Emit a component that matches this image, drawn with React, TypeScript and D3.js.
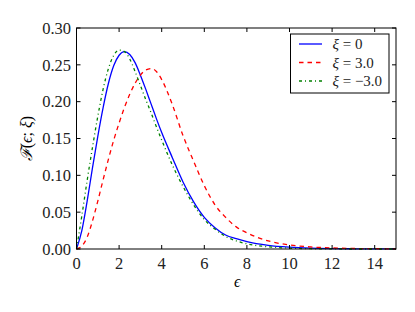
import * as d3 from 'd3'
import React from 'react'

const eps = [0, 0.25, 0.5, 0.75, 1, 1.25, 1.5, 1.75, 2, 2.25, 2.5, 2.75, 3, 3.25, 3.5, 3.75, 4, 4.5, 5, 5.5, 6, 6.5, 7, 7.5, 8, 9, 10, 11, 12, 13, 14, 15]

const xiZero = [0, 0.025, 0.065, 0.11, 0.153, 0.192, 0.225, 0.249, 0.263, 0.268, 0.264, 0.253, 0.236, 0.217, 0.197, 0.177, 0.158, 0.124, 0.091, 0.064, 0.043, 0.029, 0.019, 0.014, 0.01, 0.005, 0.0025, 0.0012, 0.0006, 0.0003, 0.0001, 0.00005]
const xiPos = [0, 0.004, 0.016, 0.038, 0.065, 0.094, 0.122, 0.148, 0.171, 0.192, 0.21, 0.225, 0.236, 0.243, 0.245, 0.241, 0.23, 0.196, 0.154, 0.119, 0.086, 0.06, 0.043, 0.03, 0.022, 0.011, 0.0055, 0.0028, 0.0014, 0.0007, 0.0004, 0.0002]
const xiNeg = [0, 0.045, 0.093, 0.138, 0.18, 0.217, 0.245, 0.263, 0.27, 0.268, 0.258, 0.241, 0.222, 0.203, 0.185, 0.166, 0.148, 0.114, 0.085, 0.06, 0.04, 0.027, 0.017, 0.011, 0.007, 0.003, 0.0012, 0.0004, 0.0001, 0, 0, 0]

const xTicks = [0, 2, 4, 6, 8, 10, 12, 14]
const yTicks = [0, 0.05, 0.1, 0.15, 0.2, 0.25, 0.3]
const legendLabels = ['ξ = 0', 'ξ = 3.0', 'ξ = −3.0']

const series = [
  { values: xiZero, color: '#0000ff', dash: undefined },
  { values: xiPos, color: '#ff0000', dash: '4.5,4' },
  { values: xiNeg, color: '#008000', dash: '3,3,1,3' },
]

const W = 415
const H = 312
const margin = { top: 28, right: 19, bottom: 63, left: 76.5 }
const font = "'Liberation Serif', 'Times New Roman', serif"
const txt = { fontFamily: font }

export default function App() {
  const width = W - margin.left - margin.right
  const height = H - margin.top - margin.bottom
  const x = d3.scaleLinear().domain([0, 15]).range([0, width])
  const y = d3.scaleLinear().domain([0, 0.3]).range([height, 0])

  const line = (vals: number[]) =>
    d3
      .line<number>()
      .x((_, i) => x(eps[i]))
      .y((d) => y(d))
      .curve(d3.curveMonotoneX)(vals) || ''

  const lx = 214
  const ly = 6

  return (
    <svg width={W} height={H} style={{ position: 'absolute', left: 0, top: 0, background: '#fff' }}>
      <g transform={`translate(${margin.left}, ${margin.top})`}>
        {series.map((s, i) => (
          <path key={i} d={line(s.values)} fill='none' stroke={s.color} strokeWidth={1.3} strokeDasharray={s.dash} />
        ))}
        <rect x={0} y={0} width={width} height={height} fill='none' stroke='#000' strokeWidth={1} />
        {xTicks.map((t) => (
          <g key={`x${t}`} transform={`translate(${x(t)},0)`}>
            <line y1={height} y2={height - 4} stroke='#000' />
            <line y1={0} y2={4} stroke='#000' />
            <text y={height + 19.5} textAnchor='middle' style={txt} fontSize={16.5} fill='#222'>
              {t}
            </text>
          </g>
        ))}
        {yTicks.map((t) => (
          <g key={`y${t}`} transform={`translate(0,${y(t)})`}>
            <line x1={0} x2={4} stroke='#000' />
            <line x1={width} x2={width - 4} stroke='#000' />
            <text x={-5.5} dy='0.35em' textAnchor='end' style={txt} fontSize={16.5} fill='#222'>
              {t.toFixed(2)}
            </text>
          </g>
        ))}
        <text x={width / 2 + 1} y={height + 38} textAnchor='middle' style={txt} fontSize={16} fontStyle='italic'>
          ϵ
        </text>
        <text transform={`translate(${-45}, ${height / 2}) rotate(-90)`} textAnchor='middle' style={txt} fontSize={16}>
          <tspan fontStyle='italic'>ℱ</tspan>(<tspan fontStyle='italic'>ϵ</tspan>; <tspan fontStyle='italic'>ξ</tspan>)
        </text>
        <g transform={`translate(${lx}, ${ly})`}>
          <rect x={0} y={0} width={98.5} height={59} fill='#fff' stroke='#000' strokeWidth={1} />
          {series.map((s, i) => (
            <g key={i} transform={`translate(0, ${10 + i * 18.5})`}>
              <line x1={8.5} x2={31.5} stroke={s.color} strokeWidth={1.3} strokeDasharray={s.dash} />
              <text x={42} dy='0.35em' style={txt} fontSize={15} fill='#222'>
                <tspan fontStyle='italic'>ξ</tspan>
                {legendLabels[i].slice(1)}
              </text>
            </g>
          ))}
        </g>
      </g>
    </svg>
  )
}
